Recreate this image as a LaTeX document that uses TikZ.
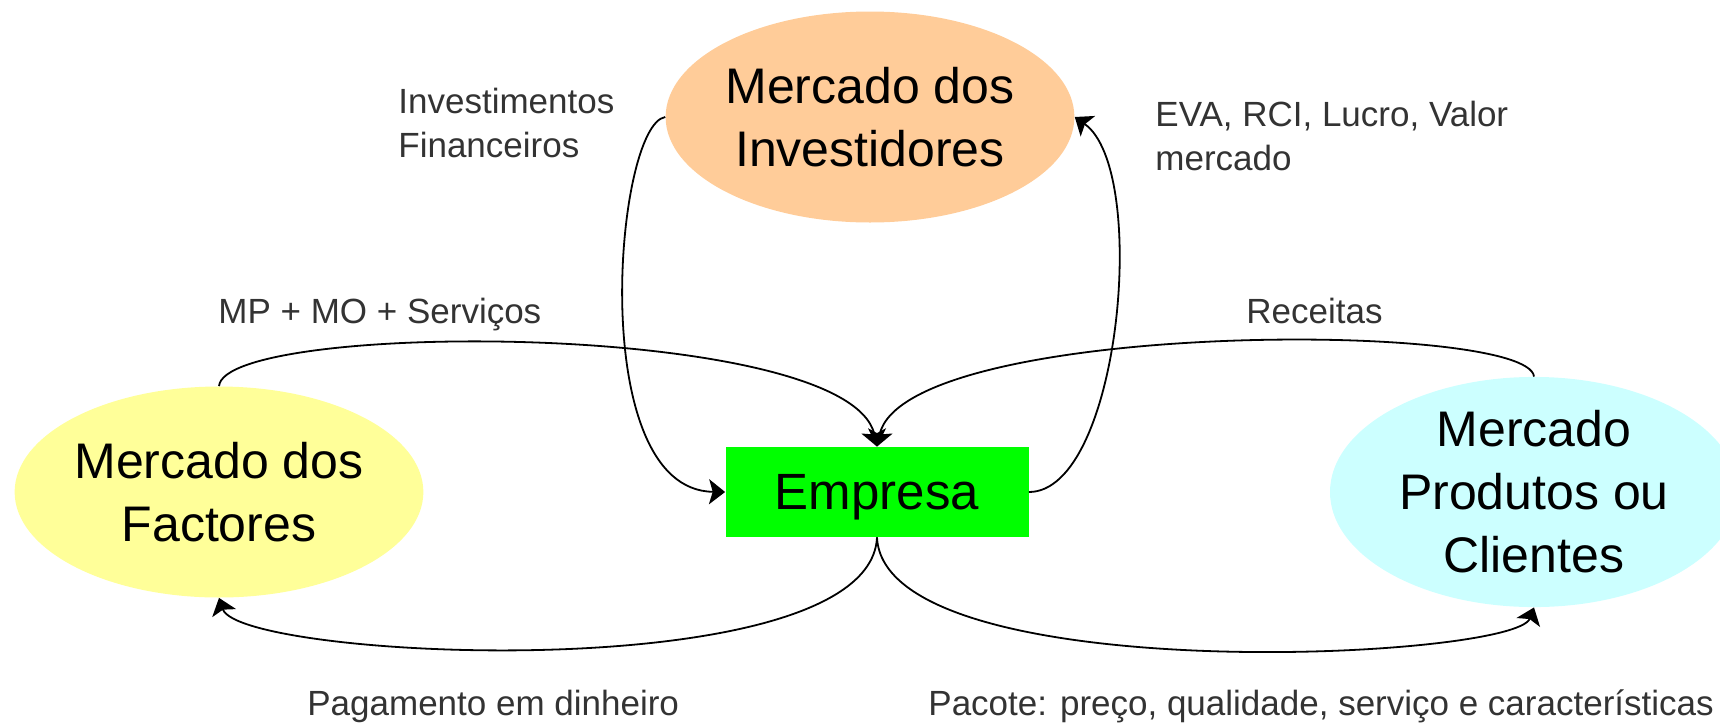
\documentclass[tikz,border=0pt]{standalone}
\usepackage{fontspec}
\setmainfont{Liberation Sans}
\usetikzlibrary{arrows.meta,shapes.geometric}
\definecolor{peach}{HTML}{FFCC99}
\definecolor{paleyellow}{HTML}{FFFF99}
\definecolor{palecyan}{HTML}{CCFFFF}
\definecolor{brightgreen}{HTML}{00FF00}
\definecolor{labelgray}{HTML}{333333}
\begin{document}
\begin{tikzpicture}[x=0.5pt,y=-0.5pt,
  mkt/.style={ellipse, minimum width=204pt, minimum height=105.5pt, inner sep=0pt,
    align=center, font=\fontsize{25}{31.5}\selectfont},
  firm/.style={rectangle, minimum width=151.5pt, minimum height=45pt, inner sep=0pt,
    fill=brightgreen, text depth=0pt, font=\fontsize{25.5}{31.5}\selectfont},
  lbl/.style={anchor=base west, inner sep=0pt, align=left, text=labelgray,
    font=\fontsize{17.5}{22}\selectfont},
  flow/.style={line width=0.9pt, -{Stealth[length=8pt,width=12.5pt,inset=1.8pt]}}]
\useasboundingbox (0,0) rectangle (1720,724);

\node[mkt, fill=peach] (inv) at (870,117) {Mercado dos\\Investidores};
\node[mkt, fill=paleyellow] (fac) at (219,492) {Mercado dos\\Factores};
\node[mkt, fill=palecyan] (cli) at (1534,492) {Mercado\\Produtos ou\\Clientes};
\node[firm] (emp) at (877,492) {Empresa};

\draw[flow] (inv.west) .. controls (615,125) and (585,490) .. (emp.west);
\draw[flow] (emp.east) .. controls (1120,492) and (1150,170) .. (inv.east);
\draw[flow] (fac.north) .. controls (225,320) and (850,320) .. (emp.north);
\draw[flow] (cli.north) .. controls (1528,320) and (904,320) .. (emp.north);
\draw[flow] (emp.south) .. controls (870,690) and (240,660) .. (fac.south);
\draw[flow] (emp.south) .. controls (884,690) and (1514,660) .. (cli.south);

% multi-line labels: base anchor sits on the last line's baseline
\node[lbl] (l1) at (398,157) {Investimentos\\Financeiros};
\node[lbl] (l2) at (1155,170) {EVA, RCI, Lucro, Valor\\mercado};
\node[lbl] (l3) at (218,323) {MP + MO + Serviços};
\node[lbl] (l4) at (1246,323) {Receitas};
\node[lbl] (l5) at (307,715) {Pagamento em dinheiro};
\node[lbl] (l6) at (928,715) {Pacote: preço, qualidade, serviço e características};
\end{tikzpicture}
\end{document}
